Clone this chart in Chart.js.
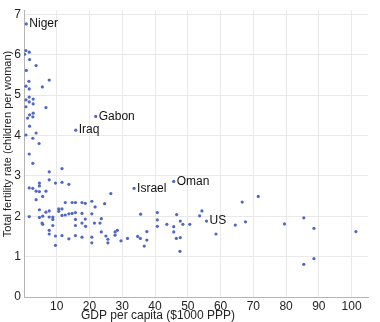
<!DOCTYPE html>
<html lang="en">
<head>
<meta charset="UTF-8">
<title>Fertility rate vs GDP per capita</title>
<script src="https://cdn.jsdelivr.net/npm/chart.js@4"></script>
<style>
  html, body { margin: 0; padding: 0; background: #fff; }
</style>
</head>
<body>
<canvas id="chart" width="380" height="322"></canvas>
<script>
// GDP per capita ($1000 PPP) and total fertility rate, one entry per country
const gdp = [
  0.6, 1.6, 0.2, 1.7, 3.7, 0.7, 7.7, 1.5, 0.6, 5.6, 1.6, 1.6, 2.8, 0.6, 1.6, 2.8,
  0.6, 6.7, 2.8, 1.7, 2.7, 1.1, 1.7, 3.7, 0.6, 2.7, 4.6, 1.6, 2.7,
  11.6, 7.7, 7.7, 9.6, 11.6, 13.7, 4.7, 4.7, 1.6, 2.7, 3.7, 4.7, 6.7, 5.7, 3.7, 26.5,
  12.6, 14.7, 15.7, 17.7, 18.7, 10.6, 11.6, 4.7, 7.7, 6.7, 10.6, 13.7, 14.7, 15.7, 17.7,
  1.6, 4.7, 5.7, 7.7, 8.8, 11.6, 12.6, 5.5, 5.7, 8.8, 8.8, 15.7, 15.7, 17.7, 18.8,
  7.7, 7.7, 11.6, 13.7, 15.7, 17.7, 9.6, 9.6,
  20.7, 24.6, 21.7, 20.7, 18.7, 23.6, 21.5, 23.2, 23.6, 28.5, 27.8, 27.8, 20.7, 25.0,
  25.6, 31.6, 29.6, 20.7, 25.6, 34.7, 35.5, 37.5, 37.5, 36.7, 35.6, 40.7, 40.7, 40.7,
  46.6, 54.3, 53.6, 47.7, 43.6, 45.7, 48.5, 50.6, 45.7, 46.5, 47.7, 47.6, 58.6, 64.5,
  67.6, 66.6, 71.5, 79.5, 85.4, 88.5, 101.3, 85.4, 88.5
];
const fertility = [
  6.10, 6.06, 6.01, 5.88, 5.73, 5.61, 5.37, 5.34, 5.22, 5.20, 5.15, 4.95, 4.90, 4.88, 4.83, 4.78,
  4.71, 4.69, 4.55, 4.51, 4.46, 4.43, 4.23, 4.06, 4.01, 3.93, 3.80, 3.54, 3.31,
  3.18, 3.10, 2.90, 2.82, 2.84, 2.79, 2.82, 2.75, 2.70, 2.69, 2.62, 2.61, 2.62, 2.49, 2.41, 2.56,
  2.34, 2.34, 2.34, 2.34, 2.32, 2.18, 2.18, 2.16, 2.13, 2.10, 2.12, 2.06, 2.07, 2.09, 2.07,
  1.99, 1.97, 2.00, 1.98, 1.98, 2.02, 2.03, 1.83, 1.80, 1.92, 1.77, 1.92, 1.77, 1.83, 1.75,
  1.65, 1.56, 1.52, 1.44, 1.52, 1.48, 1.51, 1.28,
  2.37, 2.31, 2.23, 2.06, 1.93, 1.94, 1.83, 1.83, 1.61, 1.65, 1.61, 1.53, 1.48, 1.51,
  1.43, 1.45, 1.39, 1.34, 1.34, 1.50, 1.45, 1.62, 1.41, 1.26, 2.05, 2.09, 1.91, 1.75,
  2.04, 2.13, 2.01, 1.88, 1.80, 1.74, 1.80, 1.80, 1.61, 1.45, 1.47, 1.13, 1.56, 1.78,
  1.86, 2.35, 2.49, 1.81, 1.96, 1.70, 1.62, 0.81, 0.95
];

// Countries that carry a name label
const labelNames = ['Niger', 'Iraq', 'Gabon', 'Israel', 'Oman', 'US'];
const labelGdp = [0.7, 15.8, 21.9, 33.6, 45.7, 55.7];
const labelFertility = [6.76, 4.13, 4.47, 2.69, 2.86, 1.88];

// tick values for both axes
const xTicks = [0, 10, 20, 30, 40, 50, 60, 70, 80, 90, 100];
const yTicks = [0, 1, 2, 3, 4, 5, 6, 7];

const xTitle = 'GDP per capita ($1000 PPP)';
const yTitle = 'Total fertility rate (children per woman)';

const FONT = '"Liberation Sans", Arial, sans-serif';
const DOT = '#4f68c4';

const toPoints = (xs, ys) => xs.map((x, i) => ({ x, y: ys[i] }));

// names next to their dots, plus the axis titles
const annotate = {
  id: 'annotate',
  afterDatasetsDraw(chart) {
    const ctx = chart.ctx;
    ctx.save();
    ctx.font = '12px ' + FONT;
    ctx.fillStyle = '#111';
    ctx.textBaseline = 'middle';
    chart.getDatasetMeta(1).data.forEach((pt, i) => {
      ctx.fillText(labelNames[i], pt.x + 3, pt.y);
    });
    ctx.fillStyle = '#222';
    ctx.textAlign = 'center';
    ctx.fillText(xTitle, 158, 316);
    ctx.font = '11px ' + FONT;
    ctx.translate(8, 144);
    ctx.rotate(-Math.PI / 2);
    ctx.fillText(yTitle, 0, 0);
    ctx.restore();
  }
};

new Chart(document.getElementById('chart'), {
  type: 'scatter',
  data: {
    datasets: [
      {
        data: toPoints(gdp, fertility),
        backgroundColor: DOT,
        borderWidth: 0,
        pointRadius: 1.6
      },
      {
        data: toPoints(labelGdp, labelFertility),
        backgroundColor: DOT,
        borderWidth: 0,
        pointRadius: 1.6
      }
    ]
  },
  options: {
    responsive: false,
    animation: false,
    layout: { padding: { top: 8, right: 12, left: 0, bottom: 0 } },
    plugins: {
      legend: { display: false },
      tooltip: { enabled: false }
    },
    scales: {
      x: {
        min: 0,
        max: 105,
        afterFit: s => { s.height = 25; },
        afterBuildTicks: s => { s.ticks = xTicks.map(value => ({ value })); },
        ticks: {
          autoSkip: false,
          maxRotation: 0,
          padding: 2,
          color: '#222',
          font: { family: FONT, size: 12 },
          callback: v => (v === 0 ? '' : v)
        },
        grid: { color: '#e9e9e9', drawTicks: false },
        border: { color: '#b5b5b5' }
      },
      y: {
        min: 0,
        max: 7.1,
        afterFit: s => { s.width = 24; },
        afterBuildTicks: s => { s.ticks = yTicks.map(value => ({ value })); },
        ticks: {
          autoSkip: false,
          padding: 3,
          color: '#222',
          font: { family: FONT, size: 12 }
        },
        grid: { color: '#e9e9e9', drawTicks: false },
        border: { color: '#b5b5b5' }
      }
    }
  },
  plugins: [annotate]
});
</script>
</body>
</html>
